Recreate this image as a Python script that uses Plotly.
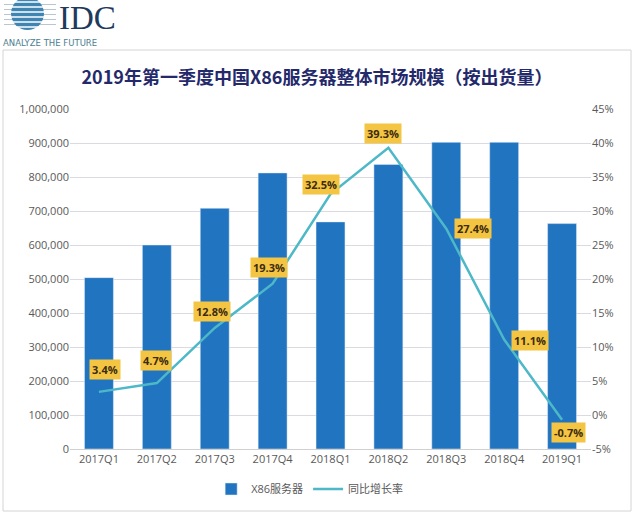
import plotly.graph_objects as go

quarters = ["2017Q1", "2017Q2", "2017Q3", "2017Q4", "2018Q1", "2018Q2", "2018Q3", "2018Q4", "2019Q1"]
shipments = [504000, 600000, 708000, 812000, 668000, 837000, 902000, 902000, 663000]
growth = [3.4, 4.7, 12.8, 19.3, 32.5, 39.3, 27.4, 11.1, -0.7]
growth_labels = ["3.4%", "4.7%", "12.8%", "19.3%", "32.5%", "39.3%", "27.4%", "11.1%", "-0.7%"]
left_ticks = [0, 100000, 200000, 300000, 400000, 500000, 600000, 700000, 800000, 900000, 1000000]
right_ticks = [-5, 0, 5, 10, 15, 20, 25, 30, 35, 40, 45]
right_tick_text = ["-5%", "0%", "5%", "10%", "15%", "20%", "25%", "30%", "35%", "40%", "45%"]

# label offsets (pixels) – style only
label_shift = [(6, 22), (-1, 23), (-3, 16), (-4, 16), (-10, 10), (-5, 14), (27, 0), (26, -1), (6, -13)]

W, H = 634, 514
L, R, T, B = 70, 591, 109, 449


def px(x):
    return (x - L) / (R - L)


def py(y):
    return (B - y) / (B - T)


FONT = "Open Sans, Noto Sans CJK SC, sans-serif"

fig = go.Figure()
fig.add_trace(go.Bar(
    x=quarters, y=shipments, name="X86服务器",
    marker=dict(color="#2174C0"), width=0.5,
))
fig.add_trace(go.Scatter(
    x=quarters, y=growth, name="同比增长率", yaxis="y2", mode="lines",
    line=dict(color="#4CB8C8", width=2.5),
))

annotations = []
for q, v, t, (dx, dy) in zip(quarters, growth, growth_labels, label_shift):
    annotations.append(dict(
        x=q, y=v, xref="x", yref="y2", text=t, showarrow=False,
        xshift=dx, yshift=dy, bgcolor="#F4C443", borderpad=2,
        font=dict(family=FONT, size=11, color="#3B2C0E", weight="bold"),
    ))

# logo text
annotations.append(dict(
    x=px(57), y=py(18), xref="paper", yref="paper", text="IDC", showarrow=False,
    xanchor="left", yanchor="middle", height=28, valign="middle",
    font=dict(family="Liberation Serif, DejaVu Serif, serif", size=33, color="#1E3A5C"),
))
annotations.append(dict(
    x=px(1), y=py(42.5), xref="paper", yref="paper", text="ANALYZE THE FUTURE", showarrow=False,
    xanchor="left", yanchor="middle",
    font=dict(family="DejaVu Sans, sans-serif", size=8.5, color="#4B7E90"),
))

shapes = [
    dict(type="rect", xref="paper", yref="paper", x0=px(3), x1=px(631), y0=py(511), y1=py(50),
         line=dict(color="#D4D4D4", width=1), fillcolor="rgba(0,0,0,0)", layer="below"),
    dict(type="circle", xref="paper", yref="paper", x0=px(11), x1=px(44), y0=py(30), y1=py(-3),
         line=dict(width=0), fillcolor="#3F85B4", layer="above"),
]
for sy in [2, 7, 12, 17, 22, 27]:
    shapes.append(dict(type="line", xref="paper", yref="paper", x0=px(5), x1=px(55), y0=py(sy), y1=py(sy),
                       line=dict(color="#FFFFFF", width=1.6), layer="above"))
for sy in [4.5, 9.5, 14.5, 19.5, 24.5]:
    shapes.append(dict(type="line", xref="paper", yref="paper", x0=px(4), x1=px(56), y0=py(sy), y1=py(sy),
                       line=dict(color="#B8C6D2", width=1), layer="below"))

fig.update_layout(
    width=W, height=H,
    margin=dict(l=L, r=W - R, t=T, b=H - B, autoexpand=False),
    paper_bgcolor="white", plot_bgcolor="white",
    font=dict(family=FONT, size=11, color="#595959"),
    title=dict(
        text="<b>2019年第一季度中国X86服务器整体市场规模（按出货量）</b>",
        x=0.5, xref="container", xanchor="center",
        y=1 - 78 / H, yref="container", yanchor="middle",
        font=dict(family="Noto Sans CJK SC, sans-serif", size=18, color="#24296B"),
    ),
    xaxis=dict(showgrid=False, showline=True, linecolor="#D0D0D0", ticks="", automargin=False,
               tickfont=dict(size=11, color="#595959")),
    yaxis=dict(range=[0, 1000000], tickvals=left_ticks, tickformat=",", showgrid=True,
               gridcolor="#DADAE2", gridwidth=1, zeroline=False, ticks="", automargin=False,
               tickfont=dict(size=11, color="#595959")),
    yaxis2=dict(range=[-5, 45], tickvals=right_ticks, ticktext=right_tick_text, overlaying="y", side="right",
                showgrid=False, zeroline=False, ticks="", automargin=False,
                tickfont=dict(size=11, color="#595959")),
    legend=dict(orientation="h", x=0.46, xanchor="center", y=py(489), yanchor="middle",
                font=dict(size=11, color="#595959"), traceorder="normal"),
    bargap=0.5,
    annotations=annotations,
    shapes=shapes,
    showlegend=True,
)

fig.write_html("out.html", config={"displayModeBar": False},
               post_script="document.body.style.margin='0px';")
